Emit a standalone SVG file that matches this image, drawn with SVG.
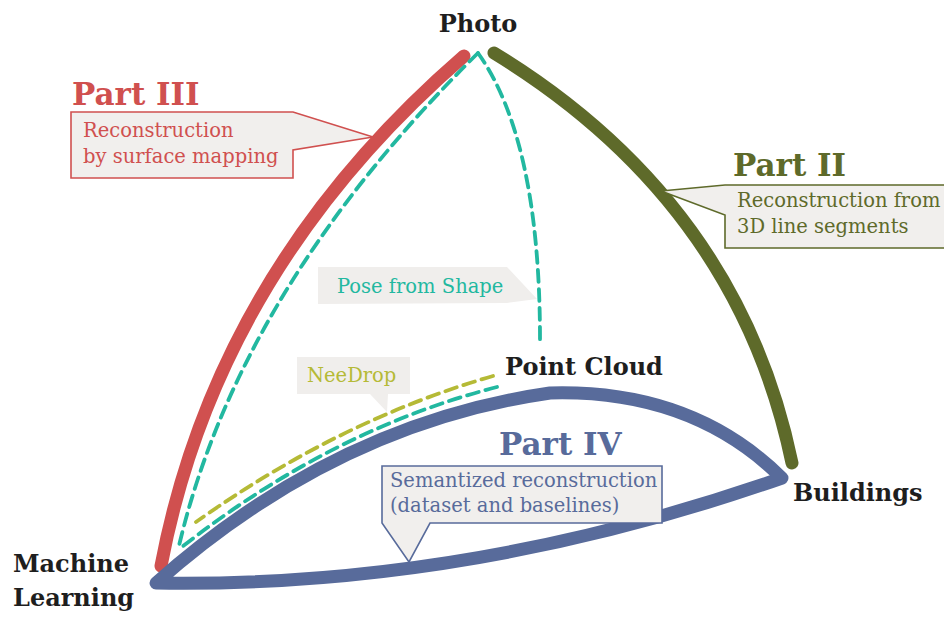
<svg xmlns="http://www.w3.org/2000/svg" width="944" height="617" viewBox="0 0 944 617">
<style>
.node{font-family:"DejaVu Serif","Liberation Serif",serif;font-weight:bold;font-size:24px;fill:#1e1e1e}
.part{font-family:"DejaVu Serif","Liberation Serif",serif;font-weight:bold;font-size:31px}
.lbl{font-family:"DejaVu Serif","Liberation Serif",serif;font-size:19.5px}
.arc{fill:none;stroke-width:13;stroke-linecap:round;stroke-linejoin:round}
.dash{fill:none;stroke-width:3.8;stroke-dasharray:12 7;stroke-linecap:round}
.box{fill:#f1efed;stroke-width:1.6}
</style>
<rect width="944" height="617" fill="#ffffff"/>
<g id="connectors">
  <path class="arc" d="M464,56 Q217,270 161,566" stroke="#d0504f"/>
  <path class="arc" d="M494,53 Q738,202 792,463" stroke="#5e6a2a"/>
  <path class="arc" d="M156,583 Q335,424 550,393 Q692,389 782,478 Q468,588 156,583 Z" stroke="#586b9b"/>
  <path class="dash" d="M478,53 Q238,290 178,550" stroke="#22b8a0"/>
  <path class="dash" d="M478,53 Q540,140 540,340" stroke="#22b8a0"/>
  <path class="dash" d="M497,387 Q330,430 178,550" stroke="#22b8a0"/>
  <path class="dash" d="M493,376 Q340,420 196,522" stroke="#b5ba36"/>
</g>
<g id="photo"><text class="node" x="478" y="32" text-anchor="middle">Photo</text></g>
<g id="point-cloud"><text class="node" x="505" y="375">Point Cloud</text></g>
<g id="buildings"><text class="node" x="793" y="501">Buildings</text></g>
<g id="machine-learning"><text class="node" x="13" y="572">Machine</text><text class="node" x="13" y="606">Learning</text></g>
<g id="part3">
  <text class="part" x="72" y="105" fill="#d0504f">Part III</text>
  <polygon class="box" points="71,112 293,112 373,137 293,150 293,178 71,178" stroke="#d0504f"/>
  <text class="lbl" x="83" y="137" fill="#d0504f">Reconstruction</text>
  <text class="lbl" x="83" y="163" fill="#d0504f">by surface mapping</text>
</g>
<g id="part2">
  <text class="part" x="733" y="176" fill="#5e6a2a">Part II</text>
  <polygon class="box" points="661,191 725,185 950,185 950,248 725,248 725,215" stroke="#5e6a2a"/>
  <text class="lbl" x="737" y="207" fill="#5e6a2a">Reconstruction from</text>
  <text class="lbl" x="737" y="233" fill="#5e6a2a">3D line segments</text>
</g>
<g id="part4">
  <text class="part" x="499" y="455" fill="#586b9b">Part IV</text>
  <polygon class="box" points="382,466 662,466 662,523 430,523 409,562 382,523" stroke="#586b9b"/>
  <text class="lbl" x="390" y="487" fill="#586b9b">Semantized reconstruction</text>
  <text class="lbl" x="390" y="512" fill="#586b9b">(dataset and baselines)</text>
</g>
<g id="pose-from-shape">
  <polygon points="318,267 507,267 537,299 507,303 318,304" fill="#f0eeec"/>
  <text class="lbl" x="337" y="293" fill="#22b8a0">Pose from Shape</text>
</g>
<g id="needrop">
  <polygon points="297,357 410,357 410,394 388,394 387,412 370,394 297,394" fill="#f0eeec"/>
  <text class="lbl" x="307" y="382" fill="#b5ba36">NeeDrop</text>
</g>
</svg>
